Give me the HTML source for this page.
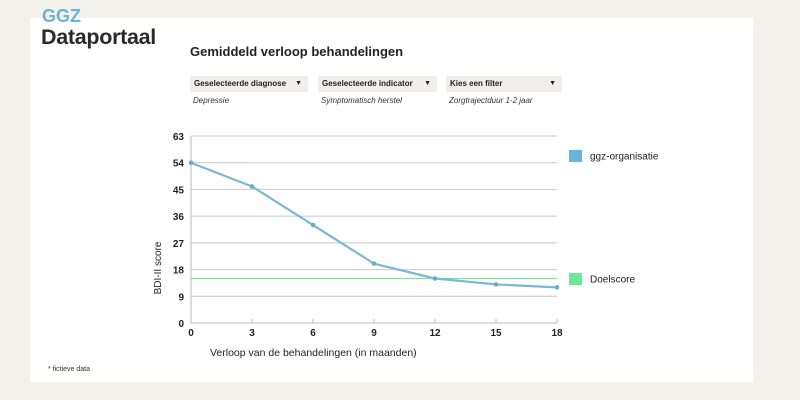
<!DOCTYPE html>
<html><head><meta charset="utf-8"><style>
body{margin:0;width:800px;height:400px;background:#f2f1ec;font-family:"Liberation Sans",sans-serif;position:relative;overflow:hidden}
.panel{position:absolute;left:30px;top:18px;width:723px;height:364px;background:#fff}
.abs{position:absolute}
.sel{position:absolute;top:76px;height:16px;background:#f0efec;font-size:8px;font-weight:bold;color:#222;line-height:16px;padding-left:4px;box-sizing:border-box}
.sel span{position:absolute;right:6px;font-size:7px}
.sub{position:absolute;top:96px;font-size:8px;font-style:italic;color:#333}
</style></head><body>
<div class="panel"></div>
<div class="abs" style="left:42px;top:6px;font-size:18px;font-weight:bold;color:#6bb3d6">GGZ</div>
<div class="abs" style="left:41px;top:25px;font-size:21.5px;font-weight:bold;color:#2a2a2a;letter-spacing:-0.3px">Dataportaal</div>
<div class="abs" style="left:190px;top:44px;font-size:13px;font-weight:bold;color:#222">Gemiddeld verloop behandelingen</div>
<div class="sel" style="left:190px;width:118px">Geselecteerde diagnose<span>▼</span></div>
<div class="sel" style="left:318px;width:119px">Geselecteerde indicator<span>▼</span></div>
<div class="sel" style="left:446px;width:116px">Kies een filter<span>▼</span></div>
<div class="sub" style="left:193px">Depressie</div>
<div class="sub" style="left:321px">Symptomatisch herstel</div>
<div class="sub" style="left:449px">Zorgtrajectduur 1-2 jaar</div>
<svg class="abs" style="left:0;top:0" width="800" height="400" id="chart"></svg>
<div class="abs" style="left:48px;top:366px;font-size:7px;color:#333">* fictieve data</div>
<script>
const months=[0,3,6,9,12,15,18];
const scores=[54,46,33,20,15,13,12];
const yTicks=[0,9,18,27,36,45,54,63];
const target=15;
const NS="http://www.w3.org/2000/svg";
const svg=document.getElementById('chart');
const x=v=>191+v/18*366, y=v=>323-v/63*187;
function el(t,a){const e=document.createElementNS(NS,t);for(const k in a)e.setAttribute(k,a[k]);svg.appendChild(e);return e;}
yTicks.forEach(t=>{
 if(t>0){const g=el('line',{x1:191,x2:557,y1:y(t),y2:y(t),stroke:'#c8c8c8','stroke-width':1});
 
 }
 const l=el('text',{x:184,y:y(t)+4,'text-anchor':'end','font-size':10,'font-weight':'bold',fill:'#222'});l.textContent=t;
 
 
});
const ax=el('path',{d:'M191,136V323H557',fill:'none',stroke:'#bbb'});


months.forEach(m=>{
 el('line',{x1:x(m),x2:x(m),y1:323,y2:319,stroke:'#bbb'});
 const l=el('text',{x:x(m),y:336,'text-anchor':'middle','font-size':10,'font-weight':'bold',fill:'#222'});l.textContent=m;
 
 
});
const tl=el('line',{x1:191,x2:557,y1:y(target),y2:y(target),stroke:'#7de3a0','stroke-width':1.2});


const ln=el('polyline',{points:months.map((m,i)=>x(m)+','+y(scores[i])).join(' '),fill:'none',stroke:'#7ab8d4','stroke-width':2.2});


months.forEach((m,i)=>{const c=el('circle',{cx:x(m),cy:y(scores[i]),r:2.3,fill:'#6aaccb'});
 
 });
const yt=el('text',{x:0,y:0,transform:'translate(161,268) rotate(-90)','font-size':10,'text-anchor':'middle',fill:'#222'});yt.textContent='BDI-II score';


const xt=el('text',{x:210,y:356,'font-size':10.5,fill:'#222'});xt.textContent='Verloop van de behandelingen (in maanden)';


[['ggz-organisatie','#6ab4dc',156],['Doelscore','#6ee69a',279]].forEach(([n,c,cy])=>{
 const r=el('rect',{x:569,y:cy-6,width:13,height:12,fill:c});
 
 
 const t=el('text',{x:590,y:cy+3.5,'font-size':10,fill:'#222'});t.textContent=n;
 
 
});
</script>
</body></html>
